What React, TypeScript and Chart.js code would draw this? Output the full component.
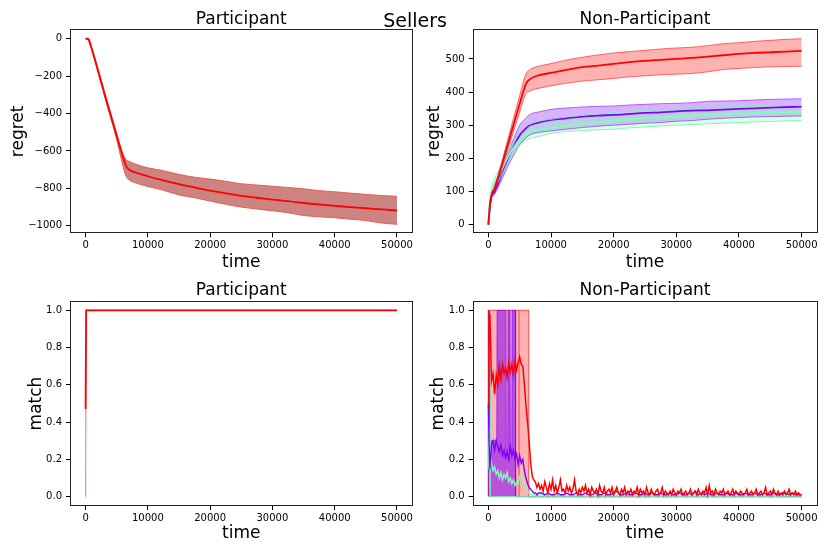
import { useEffect, useRef } from "react";
import { Chart, registerables } from "chart.js";
Chart.register(...registerables);

Chart.defaults.font.family = "'DejaVu Sans', sans-serif";
Chart.defaults.color = "#000";

// ── Colours (rainbow colormap, 3 groups) ─────────────────────────────────────

const RED    = "#ff0000";
const PURPLE = "#8000ff";
const GREEN  = "#80ffb4";

// ── Ticks ─────────────────────────────────────────────────────────────────────

const X_TICKS      = [0, 10000, 20000, 30000, 40000, 50000];
const TL_Y_TICKS   = [-1000, -800, -600, -400, -200, 0];
const TR_Y_TICKS   = [0, 100, 200, 300, 400, 500];
const MATCH_TICKS  = [0, 0.2, 0.4, 0.6, 0.8, 1.0];

// ── Regret data (top row) ─────────────────────────────────────────────────────

const TOP_T = [0, 250, 500, 1000, 2000, 3000, 4000, 5000, 6000, 6500, 7000, 8000, 10000, 12500, 15000,
  17500, 20000, 22500, 25000, 27500, 30000, 32500, 35000, 37500, 40000, 42500, 45000, 47500, 50000];

const TL_MEAN = [0, 0, -5, -55, -170, -290, -405, -520, -630, -680, -700, -715, -735, -757, -777,
  -795, -812, -826, -840, -850, -860, -868, -878, -886, -893, -900, -906, -912, -918];
const TL_HI = [0, 0, 0, -48, -160, -278, -392, -505, -615, -645, -655, -670, -690, -705, -725,
  -740, -750, -762, -775, -782, -788, -795, -802, -812, -818, -825, -832, -838, -842];
const TL_LO = [0, -2, -10, -62, -182, -302, -420, -540, -680, -735, -755, -770, -790, -810, -835,
  -850, -868, -885, -900, -910, -920, -930, -945, -952, -957, -965, -972, -985, -992];

const TR_RED_MEAN = [0, 60, 88, 110, 170, 235, 300, 365, 425, 437, 443, 450, 458, 467, 475,
  480, 485, 490, 494, 497, 500, 503, 507, 511, 515, 518, 520, 522, 524];
const TR_RED_HI = [0, 62, 92, 115, 180, 250, 320, 390, 455, 466, 472, 478, 486, 497, 505,
  512, 518, 522, 526, 530, 533, 535, 540, 546, 549, 553, 556, 559, 561];
const TR_RED_LO = [0, 55, 84, 105, 160, 220, 280, 340, 395, 402, 406, 411, 419, 427, 433,
  437, 441, 446, 449, 452, 454, 456, 461, 468, 471, 474, 476, 477, 478];
const TR_PUR_MEAN = [0, 55, 85, 100, 145, 195, 235, 270, 291, 299, 303, 308, 316, 321, 326,
  329, 331, 334, 337, 339, 342, 344, 345, 347, 349, 351, 353, 355, 356];
const TR_PUR_HI = [0, 58, 88, 105, 155, 208, 258, 300, 322, 331, 336, 340, 348, 352, 355,
  357, 358, 361, 363, 365, 366, 368, 372, 373, 374, 376, 378, 379, 380];
const TR_PUR_LO = [0, 50, 78, 92, 130, 172, 208, 240, 262, 269, 274, 278, 283, 288, 293,
  297, 300, 303, 306, 308, 312, 314, 318, 321, 323, 325, 326, 327, 328];
const TR_GRN_MEAN = [0, 70, 100, 125, 160, 200, 232, 257, 274, 280, 283, 286, 292, 298, 304,
  309, 314, 318, 321, 324, 326, 329, 331, 333, 336, 337, 338, 339, 340];
const TR_GRN_HI = [0, 75, 110, 140, 175, 215, 248, 277, 296, 302, 306, 312, 318, 325, 330,
  335, 339, 342, 345, 347, 349, 351, 353, 355, 356, 357, 358, 359, 360];
const TR_GRN_LO = [0, 62, 92, 112, 145, 183, 214, 240, 255, 259, 262, 266, 276, 281, 284,
  286, 288, 292, 295, 298, 300, 302, 304, 306, 308, 310, 311, 313, 314];

// ── Match data (bottom row) ───────────────────────────────────────────────────

const BL_T    = [0, 100, 50000];
const BL_MEAN = [0.47, 1, 1];
const BL_HI   = [1, 1, 1];
const BL_LO   = [0, 1, 1];

const BR_T_EARLY = [0, 100, 250, 500, 750, 1000, 1250, 1500, 1750, 2000, 2250, 2500, 2750, 3000, 3250,
  3500, 3750, 4000, 4250, 4500, 4750, 5000, 5250, 5500, 5750, 6000, 6250, 6500, 6750, 7000, 7250,
  7500, 7750, 8000];

// purple / green tail, every 500
const BR_T_LATE = [8500, 9000, 9500, 10000, 10500, 11000, 11500, 12000, 12500, 13000,
  13500, 14000, 14500, 15000, 15500, 16000, 16500, 17000, 17500, 18000,
  18500, 19000, 19500, 20000, 20500, 21000, 21500, 22000, 22500, 23000,
  23500, 24000, 24500, 25000, 25500, 26000, 26500, 27000, 27500, 28000,
  28500, 29000, 29500, 30000, 30500, 31000, 31500, 32000, 32500, 33000,
  33500, 34000, 34500, 35000, 35500, 36000, 36500, 37000, 37500, 38000,
  38500, 39000, 39500, 40000, 40500, 41000, 41500, 42000, 42500, 43000,
  43500, 44000, 44500, 45000, 45500, 46000, 46500, 47000, 47500, 48000,
  48500, 49000, 49500, 50000];

// red tail, every 250
const BR_T_LATE_RED = [
  8250, 8500, 8750, 9000, 9250, 9500, 9750, 10000, 10250, 10500, 10750, 11000,
  11250, 11500, 11750, 12000, 12250, 12500, 12750, 13000, 13250, 13500, 13750, 14000,
  14250, 14500, 14750, 15000, 15250, 15500, 15750, 16000, 16250, 16500, 16750, 17000,
  17250, 17500, 17750, 18000, 18250, 18500, 18750, 19000, 19250, 19500, 19750, 20000,
  20250, 20500, 20750, 21000, 21250, 21500, 21750, 22000, 22250, 22500, 22750, 23000,
  23250, 23500, 23750, 24000, 24250, 24500, 24750, 25000, 25250, 25500, 25750, 26000,
  26250, 26500, 26750, 27000, 27250, 27500, 27750, 28000, 28250, 28500, 28750, 29000,
  29250, 29500, 29750, 30000, 30250, 30500, 30750, 31000, 31250, 31500, 31750, 32000,
  32250, 32500, 32750, 33000, 33250, 33500, 33750, 34000, 34250, 34500, 34750, 35000,
  35250, 35500, 35750, 36000, 36250, 36500, 36750, 37000, 37250, 37500, 37750, 38000,
  38250, 38500, 38750, 39000, 39250, 39500, 39750, 40000, 40250, 40500, 40750, 41000,
  41250, 41500, 41750, 42000, 42250, 42500, 42750, 43000, 43250, 43500, 43750, 44000,
  44250, 44500, 44750, 45000, 45250, 45500, 45750, 46000, 46250, 46500, 46750, 47000,
  47250, 47500, 47750, 48000, 48250, 48500, 48750, 49000, 49250, 49500, 49750, 50000];

const BR_RED_EARLY = [0.48, 1.0, 0.97, 0.62, 0.66, 0.55, 0.65, 0.6, 0.7, 0.63, 0.71, 0.66, 0.69, 0.64, 0.72,
  0.67, 0.71, 0.66, 0.73, 0.68, 0.72, 0.75, 0.71, 0.7, 0.6, 0.49, 0.4, 0.3, 0.18, 0.11, 0.09,
  0.08, 0.05, 0.07];
const BR_RED_LATE = [
  0.04, 0.06, 0.03, 0.08, 0.05, 0.02, 0.07, 0.04, 0.09, 0.03, 0.06, 0.02,
  0.05, 0.09, 0.03, 0.04, 0.02, 0.06, 0.03, 0.05, 0.02, 0.04, 0.09, 0.03,
  0.01, 0.04, 0.02, 0.05, 0.03, 0.06, 0.02, 0.04, 0.01, 0.05, 0.03, 0.02,
  0.04, 0.01, 0.06, 0.03, 0.02, 0.05, 0.01, 0.03, 0.04, 0.02, 0.05, 0.01,
  0.03, 0.05, 0.02, 0.01, 0.04, 0.02, 0.05, 0.01, 0.03, 0.02, 0.04, 0.01,
  0.03, 0.02, 0.05, 0.01, 0.04, 0.02, 0.03, 0.01, 0.05, 0.02, 0.01, 0.04,
  0.02, 0.01, 0.03, 0.04, 0.01, 0.02, 0.05, 0.01, 0.03, 0.02, 0.01, 0.03,
  0.01, 0.04, 0.02, 0.01, 0.03, 0.02, 0.04, 0.01, 0.02, 0.03, 0.01, 0.02,
  0.04, 0.01, 0.02, 0.03, 0.01, 0.04, 0.02, 0.01, 0.03, 0.02, 0.05, 0.01,
  0.06, 0.02, 0.03, 0.01, 0.04, 0.02, 0.01, 0.03, 0.02, 0.04, 0.01, 0.02,
  0.03, 0.01, 0.02, 0.04, 0.01, 0.03, 0.02, 0.01, 0.03, 0.02, 0.01, 0.02,
  0.04, 0.01, 0.02, 0.03, 0.01, 0.02, 0.04, 0.01, 0.02, 0.03, 0.01, 0.02,
  0.05, 0.01, 0.02, 0.03, 0.01, 0.04, 0.02, 0.01, 0.03, 0.01, 0.02, 0.01,
  0.03, 0.01, 0.02, 0.04, 0.01, 0.02, 0.01, 0.03, 0.01, 0.02, 0.01, 0.01];

const BR_PUR_EARLY = [0.5, 0.3, 0.15, 0.28, 0.3, 0.25, 0.3, 0.27, 0.24, 0.28, 0.22, 0.25, 0.21, 0.24, 0.2,
  0.27, 0.22, 0.25, 0.2, 0.23, 0.17, 0.22, 0.18, 0.2, 0.14, 0.1, 0.07, 0.05, 0.04, 0.03, 0.02,
  0.02, 0.01, 0.02];
const BR_PUR_LATE = [0.02, 0.01, 0.02, 0.01, 0.01, 0.02, 0.01, 0.01, 0.02, 0.01,
  0.01, 0.02, 0.01, 0.01, 0.02, 0.01, 0.01, 0.02, 0.01, 0.01,
  0.02, 0.01, 0.01, 0.02, 0.03, 0.01, 0.01, 0.02, 0.01, 0.01,
  0.02, 0.01, 0.01, 0.02, 0.01, 0.02, 0.01, 0.01, 0.02, 0.01,
  0.01, 0.02, 0.01, 0.01, 0.02, 0.01, 0.01, 0.02, 0.01, 0.03,
  0.01, 0.02, 0.01, 0.02, 0.01, 0.01, 0.02, 0.01, 0.01, 0.02,
  0.01, 0.01, 0.02, 0.01, 0.01, 0.02, 0.01, 0.01, 0.02, 0.01,
  0.01, 0.02, 0.01, 0.01, 0.02, 0.01, 0.01, 0.02, 0.02, 0.01,
  0.02, 0.01, 0.01, 0.01];

const BR_GRN_EARLY = [0.4, 0.15, 0.25, 0.18, 0.14, 0.16, 0.12, 0.14, 0.1, 0.13, 0.09, 0.12, 0.1, 0.13, 0.08,
  0.1, 0.07, 0.09, 0.06, 0.08, 0.07, 0.11, 0.12, 0.1, 0.07, 0.05, 0.03, 0.02, 0.01, 0.01, 0.01,
  0.005, 0.005, 0.005];
const BR_GRN_LATE = [0.01, 0.005, 0.01, 0.005, 0.01, 0.005, 0.005, 0.01, 0.005, 0.005,
  0.01, 0.005, 0.005, 0.01, 0.005, 0.005, 0.01, 0.005, 0.005, 0.01,
  0.005, 0.005, 0.01, 0.005, 0.005, 0.01, 0.005, 0.005, 0.01, 0.005,
  0.005, 0.01, 0.005, 0.005, 0.01, 0.005, 0.005, 0.01, 0.005, 0.005,
  0.01, 0.005, 0.005, 0.01, 0.005, 0.005, 0.01, 0.005, 0.005, 0.01,
  0.005, 0.005, 0.01, 0.005, 0.005, 0.01, 0.005, 0.005, 0.01, 0.005,
  0.005, 0.01, 0.005, 0.005, 0.01, 0.005, 0.005, 0.01, 0.005, 0.005,
  0.01, 0.005, 0.005, 0.01, 0.005, 0.005, 0.01, 0.005, 0.015, 0.02,
  0.015, 0.01, 0.01, 0.005];

const BR_T     = [...BR_T_EARLY, ...BR_T_LATE];
const BR_T_RED = [...BR_T_EARLY, ...BR_T_LATE_RED];
const BR_RED   = [...BR_RED_EARLY, ...BR_RED_LATE];
const BR_PUR   = [...BR_PUR_EARLY, ...BR_PUR_LATE];
const BR_GRN   = [...BR_GRN_EARLY, ...BR_GRN_LATE];

// band upper edges (lower edge is 0)
const BR_RED_BAND_T  = [0, 0, 4900, 4900, 4900, 6450, 6450, 50000];
const BR_RED_BAND_HI = [0, 1, 1, 0, 1, 1, 0, 0];
const BR_PUR_BAND_T  = [0, 0, 150, 200, 1350, 1400, 2800, 2850, 3100, 3150, 3450, 3500, 3750, 3800, 4300, 4350, 50000];
const BR_PUR_BAND_HI = [0, 1, 1, 0.3, 0.3, 1, 1, 0.25, 0.25, 1, 1, 0.25, 0.25, 1, 1, 0, 0];
const BR_GRN_BAND_T  = [0, 200, 250, 320, 50000];
const BR_GRN_BAND_HI = [0, 0, 1, 0, 0];

// ── Helpers ───────────────────────────────────────────────────────────────────

const pts = (xs: number[], ys: number[]) => xs.map((x, i) => ({ x, y: ys[i] }));

function line(xs: number[], ys: number[], color: string, width: number, extra: any = {}) {
  return {
    data: pts(xs, ys),
    borderColor: color,
    borderWidth: width,
    pointRadius: 0,
    pointHoverRadius: 0,
    fill: false,
    tension: 0,
    ...extra,
  };
}

const SMOOTH = { cubicInterpolationMode: "monotone" };

const framePlugin = {
  id: "frame",
  afterDatasetsDraw(chart: any) {
    const { ctx, chartArea: a } = chart;
    ctx.save();
    ctx.strokeStyle = "#222";
    ctx.lineWidth = 1;
    ctx.strokeRect(Math.round(a.left) + 0.5, Math.round(a.top) + 0.5,
      Math.round(a.right - a.left) - 1, Math.round(a.bottom - a.top) - 1);
    ctx.restore();
  },
};

const minus = (v: number) => (v < 0 ? "\u2212" + Math.abs(v) : String(v));

interface PanelOpts {
  title: string; yTitle: string;
  yMin: number; yMax: number; yTicks: number[]; yFmt: (v: number) => string;
  yW: number; yTitlePad: number; xH: number; xTitlePad: number;
  titlePad: number; padRight: number;
}

function makeOptions(o: PanelOpts): any {
  const tickGrid = { display: true, drawOnChartArea: false, drawTicks: true, tickLength: 4, color: "#000", lineWidth: 1 };
  return {
    responsive: false,
    animation: false,
    events: [],
    layout: { padding: { left: 0, top: 0, bottom: 0, right: o.padRight } },
    plugins: {
      legend: { display: false },
      tooltip: { enabled: false },
      filler: { drawTime: "beforeDatasetsDraw" },
      title: {
        display: true, text: o.title, fullSize: false, color: "#000",
        font: { size: 17, weight: "normal" }, padding: { top: o.titlePad, bottom: 0 },
      },
    },
    scales: {
      x: {
        type: "linear", min: -2500, max: 52500,
        afterBuildTicks: (s: any) => { s.ticks = X_TICKS.map((v) => ({ value: v })); },
        afterFit: (s: any) => { s.height = o.xH; },
        ticks: { font: { size: 10 }, padding: 2, maxRotation: 0, autoSkip: false, callback: (v: any) => String(v) },
        grid: tickGrid,
        border: { display: false },
        title: { display: true, text: "time", font: { size: 17 }, padding: { top: 0, bottom: o.xTitlePad } },
      },
      y: {
        type: "linear", min: o.yMin, max: o.yMax,
        afterBuildTicks: (s: any) => { s.ticks = o.yTicks.map((v) => ({ value: v })); },
        afterFit: (s: any) => { s.width = o.yW; },
        ticks: { font: { size: 10 }, padding: 4, autoSkip: false, callback: (v: any) => o.yFmt(Number(v)) },
        grid: tickGrid,
        border: { display: false },
        title: { display: true, text: o.yTitle, font: { size: 17 }, padding: { top: o.yTitlePad, bottom: 0 } },
      },
    },
  };
}

// ── Panel ─────────────────────────────────────────────────────────────────────

function Panel({ left, top, datasets, options }: { left: number; top: number; datasets: any[]; options: any }) {
  const ref = useRef<HTMLCanvasElement>(null);
  const chartRef = useRef<Chart | null>(null);

  useEffect(() => {
    if (!ref.current) return;
    chartRef.current?.destroy();
    chartRef.current = new Chart(ref.current, {
      type: "line",
      data: { datasets },
      options,
      plugins: [framePlugin],
    });
    return () => chartRef.current?.destroy();
  }, [datasets, options]);

  return (
    <canvas
      ref={ref}
      width={415}
      height={277}
      style={{ position: "absolute", left, top, width: 415, height: 277 }}
    />
  );
}

// ── Panels' datasets ──────────────────────────────────────────────────────────

const BROWN_FILL = "rgba(175,55,50,0.62)";
const BROWN_EDGE = "rgba(232,85,72,0.9)";

const TL_SETS = [
  line(TOP_T, TL_MEAN, RED, 1.8, SMOOTH),
  line(TOP_T, TL_HI, BROWN_EDGE, 1, { ...SMOOTH, fill: "+1", backgroundColor: BROWN_FILL }),
  line(TOP_T, TL_LO, BROWN_EDGE, 1, SMOOTH),
];

const TR_SETS = [
  line(TOP_T, TR_RED_MEAN, RED, 1.8, SMOOTH),
  line(TOP_T, TR_RED_HI, "rgba(255,0,0,0.55)", 1, { ...SMOOTH, fill: "+1", backgroundColor: "rgba(255,0,0,0.3)" }),
  line(TOP_T, TR_RED_LO, "rgba(255,0,0,0.55)", 1, SMOOTH),
  line(TOP_T, TR_GRN_MEAN, GREEN, 1.8, SMOOTH),
  line(TOP_T, TR_GRN_HI, "rgba(110,245,170,0.85)", 1, { ...SMOOTH, fill: "+1", backgroundColor: "rgba(128,255,180,0.3)" }),
  line(TOP_T, TR_GRN_LO, "rgba(110,245,170,0.85)", 1, SMOOTH),
  line(TOP_T, TR_PUR_MEAN, PURPLE, 1.8, SMOOTH),
  line(TOP_T, TR_PUR_HI, "rgba(128,0,255,0.55)", 1, { ...SMOOTH, fill: "+1", backgroundColor: "rgba(128,0,255,0.3)" }),
  line(TOP_T, TR_PUR_LO, "rgba(128,0,255,0.55)", 1, SMOOTH),
];

const BL_SETS = [
  line(BL_T, BL_MEAN, RED, 1.8),
  line(BL_T, BL_HI, "rgba(232,110,100,0.6)", 1, { fill: "+1", backgroundColor: BROWN_FILL }),
  line(BL_T, BL_LO, "rgba(215,120,110,0.8)", 1.2),
];

const BR_SETS = [
  line(BR_T_RED, BR_RED, RED, 1.5),
  line(BR_T, BR_PUR, PURPLE, 1.4),
  line(BR_T, BR_GRN, GREEN, 1.4),
  line(BR_GRN_BAND_T, BR_GRN_BAND_HI, "rgba(110,245,170,0.9)", 1, { fill: "origin", backgroundColor: "rgba(128,255,180,0.6)" }),
  line(BR_PUR_BAND_T, BR_PUR_BAND_HI, "rgba(128,0,255,0.7)", 1, { fill: "origin", backgroundColor: "rgba(128,0,255,0.55)" }),
  line(BR_RED_BAND_T, BR_RED_BAND_HI, "rgba(255,0,0,0.55)", 1.2, { fill: "origin", backgroundColor: "rgba(255,0,0,0.3)" }),
];

const TL_OPTS = makeOptions({
  title: "Participant", yTitle: "regret", yMin: -1040, yMax: 50, yTicks: TL_Y_TICKS, yFmt: minus,
  yW: 70, yTitlePad: 8.8, xH: 43.7, xTitlePad: 4.2, titlePad: 9, padRight: 0.7,
});
const TR_OPTS = makeOptions({
  title: "Non-Participant", yTitle: "regret", yMin: -26, yMax: 589, yTicks: TR_Y_TICKS, yFmt: minus,
  yW: 57.7, yTitlePad: 9.8, xH: 43.7, xTitlePad: 4.2, titlePad: 9, padRight: 12.7,
});
const BL_OPTS = makeOptions({
  title: "Participant", yTitle: "match", yMin: -0.05, yMax: 1.05, yTicks: MATCH_TICKS, yFmt: (v) => v.toFixed(1),
  yW: 70, yTitlePad: 26.5, xH: 48, xTitlePad: 9.8, titlePad: 3.6, padRight: 0.7,
});
const BR_OPTS = makeOptions({
  title: "Non-Participant", yTitle: "match", yMin: -0.05, yMax: 1.05, yTicks: MATCH_TICKS, yFmt: (v) => v.toFixed(1),
  yW: 57.7, yTitlePad: 13.1, xH: 48, xTitlePad: 9.8, titlePad: 3.6, padRight: 12.7,
});

// ── App ───────────────────────────────────────────────────────────────────────

export default function App() {
  return (
    <div style={{ position: "fixed", left: 0, top: 0, width: 830, height: 554, background: "#fff", overflow: "hidden" }}>
      <Panel left={0} top={0} datasets={TL_SETS} options={TL_OPTS} />
      <Panel left={415} top={0} datasets={TR_SETS} options={TR_OPTS} />
      <Panel left={0} top={277} datasets={BL_SETS} options={BL_OPTS} />
      <Panel left={415} top={277} datasets={BR_SETS} options={BR_OPTS} />
      <div
        style={{
          position: "absolute", left: 0, top: 10.5, width: 830, textAlign: "center",
          fontFamily: "'DejaVu Sans', sans-serif", fontSize: 19, lineHeight: "19px", color: "#000",
        }}
      >
        Sellers
      </div>
    </div>
  );
}
